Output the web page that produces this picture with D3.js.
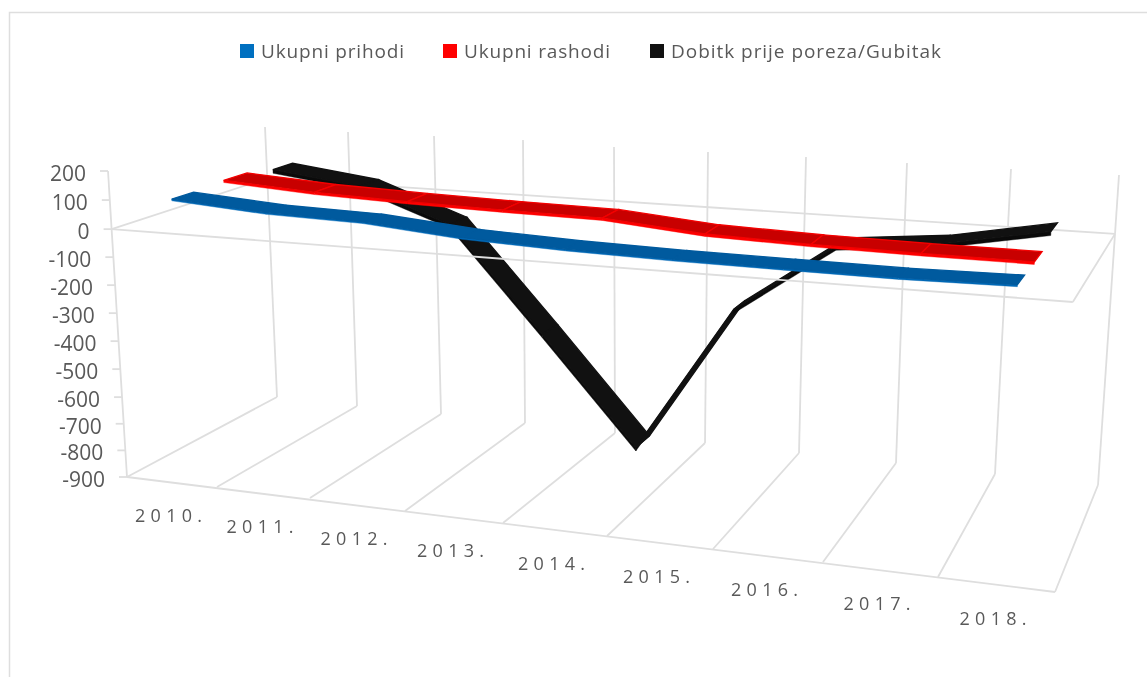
<!DOCTYPE html>
<html>
<head>
<meta charset="utf-8">
<script src="https://cdn.jsdelivr.net/npm/d3@7"></script>
<style>
  html, body { margin: 0; padding: 0; background: #fff; }
  svg { display: block; filter: blur(0.45px); }
  text { font-family: "Open Sans", sans-serif; fill: #595959; }
</style>
</head>
<body>
<div id="chart-area"></div>
<script>
// data
const years = ["2010.", "2011.", "2012.", "2013.", "2014.", "2015.", "2016.", "2017.", "2018."]
const valueTicks = [200, 100, 0, -100, -200, -300, -400, -500, -600, -700, -800, -900]
const seriesNames = ["Ukupni prihodi", "Ukupni rashodi", "Dobitk prije poreza/Gubitak"]
const prihodi = [98, 74, 66, 38, 25, 18, 15, 13, 18]
const rashodi = [106, 84, 72, 66, 63, 33, 23, 19, 18]
const dobitak = [88, 46, -78, -460, -855, -308, -54, -19, 48]

// the picture of the 3d box, measured at each category boundary
const frontFloorX = [127, 217, 310, 405, 503, 607, 713, 823, 938, 1055]
const frontFloorY = [477, 487, 498, 511, 523, 536, 549, 562, 577, 592]
const backFloorX = [277, 357, 441, 525, 615, 705, 799, 896, 995, 1098]
const backFloorY = [397, 406, 414, 423, 433, 443, 453, 463, 474, 485]
const backTopX = [265, 348, 434, 523, 614, 708, 806, 907, 1011, 1119]
const backTopY = [127, 132, 136, 140, 147, 152, 157, 163, 169, 175]
const frontTopLeft = [108, 171]
const frontTopRight = [1077, 234]

const WIDTH = 1147
const HEIGHT = 677
const GRID = "#dedede"

const svg = d3.select("#chart-area").append("svg")
  .attr("width", WIDTH)
  .attr("height", HEIGHT)

const edges = d3.range(10)
const fx = d3.scaleLinear().domain(edges).range(frontFloorX)
const fy = d3.scaleLinear().domain(edges).range(frontFloorY)
const bx = d3.scaleLinear().domain(edges).range(backFloorX)
const by = d3.scaleLinear().domain(edges).range(backFloorY)
const tx = d3.scaleLinear().domain(edges).range(backTopX)
const ty = d3.scaleLinear().domain(edges).range(backTopY)
// the value axis is not quite even because of the perspective
const up = d3.scaleLinear().domain([-900, -600, 0, 200]).range([0, 0.261, 0.81, 1])

const lerp = (a, b, t) => [a[0] + (b[0] - a[0]) * t, a[1] + (b[1] - a[1]) * t]

// i = category position (0-9), v = value, d = depth (0 front, 1 back)
function project(i, v, d) {
  const t = (fx(i) - fx(0)) / (fx(9) - fx(0))
  const frontTop = lerp(frontTopLeft, frontTopRight, t)
  const front = lerp([fx(i), fy(i)], frontTop, up(v))
  const back = lerp([bx(i), by(i)], [tx(i), ty(i)], up(v))
  return lerp(front, back, d)
}

const line = d3.line()

function gridLine(a, b) {
  svg.append("path")
    .attr("d", line([a, b]))
    .attr("fill", "none")
    .attr("stroke", GRID)
    .attr("stroke-width", 1.8)
}

// chart border, only top and left show
svg.append("path")
  .attr("d", line([[9.5, HEIGHT], [9.5, 12.5], [WIDTH, 12.5]]))
  .attr("fill", "none")
  .attr("stroke", GRID)
  .attr("stroke-width", 1.5)

// back wall and floor
edges.forEach(i => {
  gridLine(project(i, -900, 1), project(i, 200, 1))
  gridLine(project(i, -900, 0), project(i, -900, 1))
})
gridLine(project(0, -900, 0), project(9, -900, 0))
gridLine(project(0, -900, 0), project(0, 200, 0))

// plane at zero
gridLine(project(0, 0, 1), project(9, 0, 1))
gridLine(project(0, 0, 0), project(0, 0, 1))
gridLine(project(9, 0, 0), project(9, 0, 1))

// value axis
valueTicks.forEach(v => {
  const p = project(0, v, 0)
  gridLine([p[0] - 8, p[1]], p)
  svg.append("text")
    .attr("x", p[0] - 22)
    .attr("y", p[1] + 2.5)
    .attr("dy", "0.35em")
    .attr("text-anchor", "end")
    .attr("font-size", "21px")
    .text(v)
})

// category labels
years.forEach((y, i) => {
  const p = project(i + 0.5, -900, 0)
  svg.append("text")
    .attr("x", p[0] - 3.5)
    .attr("y", p[1] + 34)
    .attr("dy", "0.35em")
    .attr("text-anchor", "middle")
    .attr("font-size", "18px")
    .attr("textLength", 67)
    .attr("lengthAdjust", "spacing")
    .text(y)
})

// ribbons: top surface plus a thin front face
function ribbon(values, near, far, thick, topColor, faceColor, seamColor) {
  const g = svg.append("g")
  d3.pairs(values.map((v, i) => [i + 0.5, v])).forEach(([a, b]) => {
    g.append("path")
      .attr("d", line([
        project(a[0], a[1] - thick, near), project(b[0], b[1] - thick, near),
        project(b[0], b[1], near), project(a[0], a[1], near)
      ]) + "Z")
      .attr("fill", faceColor)
      .attr("stroke", faceColor)
      .attr("stroke-width", 0.4)
    g.append("path")
      .attr("d", line([
        project(a[0], a[1], near), project(b[0], b[1], near),
        project(b[0], b[1], far), project(a[0], a[1], far)
      ]) + "Z")
      .attr("fill", topColor)
      .attr("stroke", seamColor)
      .attr("stroke-width", 1.3)
  })
}

ribbon(dobitak, 0.77, 0.9, 14, "#111111", "#0a0a0a", "#111111")
gridLine(project(0, 0, 0), project(9, 0, 0))
ribbon(rashodi, 0.445, 0.6, 8, "#c80000", "#ff0000", "#f40000")
ribbon(prihodi, 0.1, 0.245, 6, "#005a9e", "#0068b5", "#005a9e")

// legend
const legendX = [240, 443, 650]
const legendWidth = [143, 146, 270]
const legendFill = ["#0070c0", "#ff0000", "#111111"]
seriesNames.forEach((name, i) => {
  svg.append("rect")
    .attr("x", legendX[i])
    .attr("y", 44)
    .attr("width", 14)
    .attr("height", 14)
    .attr("fill", legendFill[i])
  svg.append("text")
    .attr("x", legendX[i] + 21)
    .attr("y", 51)
    .attr("dy", "0.35em")
    .attr("font-size", "19px")
    .attr("textLength", legendWidth[i])
    .attr("lengthAdjust", "spacing")
    .text(name)
})
</script>
</body>
</html>
